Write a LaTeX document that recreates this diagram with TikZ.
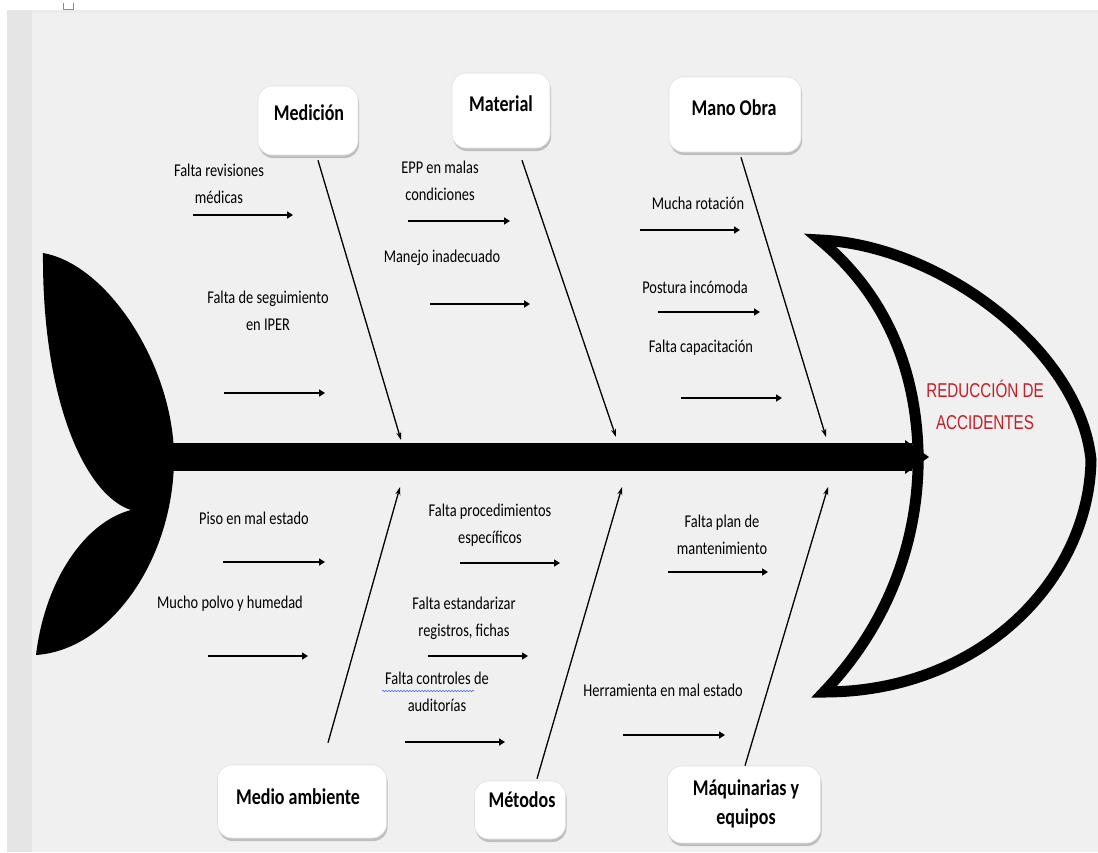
\documentclass[tikz,border=0pt]{standalone}
\usepackage{fontspec}
\setmainfont{Carlito}
\newfontfamily\labfont[FakeStretch=0.8]{Carlito}
\newfontfamily\boxfont[FakeStretch=0.8]{Carlito}
\newfontfamily\titfont[FakeStretch=0.76]{Liberation Sans}
\usetikzlibrary{shadows,decorations.pathmorphing,arrows.meta}
\definecolor{bg}{RGB}{240,240,240}
\definecolor{strip}{RGB}{229,229,229}
\definecolor{titred}{RGB}{196,30,40}
\definecolor{spell}{RGB}{70,110,210}
\begin{document}
\begin{tikzpicture}[x=1pt,y=-1pt,
  catbox/.style={fill=white, draw=black!12, line width=0.6pt, rounded corners=14pt,
    drop shadow={shadow xshift=1pt, shadow yshift=-3pt, opacity=0.3, fill=black!70}},
  cattext/.style={font=\boxfont\bfseries\fontsize{22.5}{28}\selectfont, align=center, inner sep=0pt},
  lab/.style={font=\labfont\fontsize{18}{27}\selectfont, align=center, inner sep=0pt},
  bone/.style={line width=1.3pt, -{Stealth[length=8pt,width=5pt]}},
  sub/.style={line width=2.4pt, -{Triangle[length=6pt,width=7pt]}},
]
\useasboundingbox (0,0) rectangle (1098,852);
% background
\fill[white] (0,0) rectangle (1098,852);
\fill[strip] (7,10) rectangle (32,852);
\fill[bg] (32,12) rectangle (1098,852);
\fill[black!8] (32,10) rectangle (1098,13);
\draw[black!45, line width=0.8pt] (63,3) -- (63,9) -- (73,9) -- (73,3);

% tail
\fill[black] (43,253) .. controls (110,265) and (175,370) .. (174,460)
  .. controls (173,560) and (110,650) .. (36,655)
  .. controls (45,580) and (85,522) .. (131,510)
  .. controls (85,495) and (42,400) .. (43,253) -- cycle;

% spine
\fill[black] (170,443) rectangle (912,471);
\fill[black] (905,440) -- (929,457) -- (905,474) -- cycle;

% head
\draw[line width=11pt, line join=miter, miter limit=12]
  (820,240) .. controls (940,245) and (1080,350) .. (1091,460)
  .. controls (1089,580) and (980,692) .. (824,692)
  .. controls (900,612) and (920,520) .. (918,450)
  .. controls (915,360) and (880,290) .. (820,240) -- cycle;
\node[font=\titfont\fontsize{20}{32}\selectfont, text=titred, align=center, inner sep=0pt]
  (goal) at (985,405) {REDUCCIÓN DE\\ACCIDENTES};

% category boxes
\node[catbox, minimum width=100pt, minimum height=69pt] (med) at (308,120.5) {};
\node[cattext] (medt) at (309,113) {Medición};
\node[catbox, minimum width=98pt, minimum height=75pt] (mat) at (501,110.5) {};
\node[cattext] (matt) at (501,104) {Material};
\node[catbox, minimum width=132pt, minimum height=75pt] (man) at (735,114.5) {};
\node[cattext] (mant) at (734,108) {Mano Obra};
\node[catbox, minimum width=169pt, minimum height=73pt] (amb) at (302,801.5) {};
\node[cattext] (ambt) at (298,797) {Medio ambiente};
\node[catbox, minimum width=91pt, minimum height=58pt] (met) at (520,810) {};
\node[cattext] (mett) at (522,800) {Métodos};
\node[catbox, minimum width=153pt, minimum height=77pt] (maq) at (744,804.5) {};
\node[cattext, font=\boxfont\bfseries\fontsize{22.5}{29}\selectfont] (maqt) at (746,804) {Máquinarias y\\equipos};

% bones
\draw[bone] ([xshift=10pt,yshift=-5pt]med.south) -- (401,440) coordinate (s1);
\draw[bone] ([xshift=21pt,yshift=-12pt]mat.south) -- (616,437) coordinate (s2);
\draw[bone] ([xshift=6pt,yshift=-5pt]man.south) -- (826,437) coordinate (s3);
\draw[bone] ([xshift=26pt,yshift=22pt]amb.north) -- (400,487) coordinate (s4);
\draw[bone] ([xshift=17pt,yshift=2pt]met.north) -- (622,487) coordinate (s5);
\draw[bone] ([xshift=1pt,yshift=0pt]maq.north) -- (828,487) coordinate (s6);

% causes
\node[lab] (m1) at (219,184) {Falta revisiones\\médicas};
\draw[sub] (193,215) coordinate (m1s) -- (293,215) coordinate (m1e);
\node[lab] (m2) at (268,311) {Falta de seguimiento\\en IPER};
\draw[sub] (224,393) coordinate (m2s) -- (325,393) coordinate (m2e);

\node[lab] (t1) at (440,181) {EPP en malas\\condiciones};
\draw[sub] (408,221) coordinate (t1s) -- (510,221) coordinate (t1e);
\node[lab] (t2) at (442,258) {Manejo inadecuado};
\draw[sub] (430,304) coordinate (t2s) -- (530,304) coordinate (t2e);

\node[lab] (o1) at (698,203) {Mucha rotación};
\draw[sub] (640,230) coordinate (o1s) -- (740,230) coordinate (o1e);
\node[lab] (o2) at (695,287) {Postura incómoda};
\draw[sub] (658,312) coordinate (o2s) -- (760,312) coordinate (o2e);
\node[lab] (o3) at (701,348) {Falta capacitación};
\draw[sub] (681,398) coordinate (o3s) -- (782,398) coordinate (o3e);

\node[lab] (a1) at (254,518) {Piso en mal estado};
\draw[sub] (223,562) coordinate (a1s) -- (325,562) coordinate (a1e);
\node[lab] (a2) at (230,604) {Mucho polvo y humedad};
\draw[sub] (208,656) coordinate (a2s) -- (308,656) coordinate (a2e);

\node[lab] (d1) at (490,525) {Falta procedimientos\\específicos};
\draw[sub] (460,563) coordinate (d1s) -- (560,563) coordinate (d1e);
\node[lab] (d2) at (464,618) {Falta estandarizar\\registros, fichas};
\draw[sub] (428,656) coordinate (d2s) -- (528,656) coordinate (d2e);
\node[lab] (d3) at (437,692) {Falta controles de\\auditorías};
\draw[sub] (405,742) coordinate (d3s) -- (505,742) coordinate (d3e);
\draw[spell, line width=0.6pt, decorate, decoration={snake, amplitude=0.7pt, segment length=3pt}]
  (382,691) coordinate (w1) -- (474,691) coordinate (w2);

\node[lab] (q1) at (722,535) {Falta plan de\\mantenimiento};
\draw[sub] (668,572) coordinate (q1s) -- (768,572) coordinate (q1e);
\node[lab] (q2) at (663,690) {Herramienta en mal estado};
\draw[sub] (623,735) coordinate (q2s) -- (725,735) coordinate (q2e);
\end{tikzpicture}
\end{document}
